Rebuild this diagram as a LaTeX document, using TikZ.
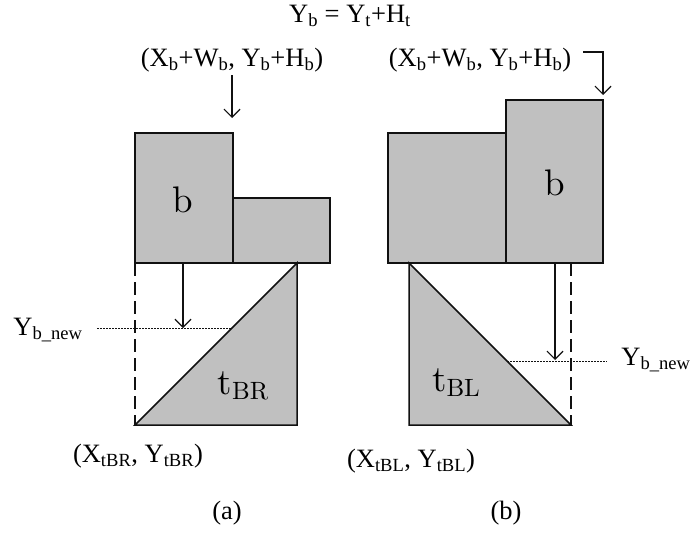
\documentclass[tikz,border=0pt]{standalone}
\usepackage{fontspec}
\setmainfont{Liberation Serif}
\newfontfamily\lmfont{lmroman10-regular.otf}
\usetikzlibrary{arrows.meta}
\definecolor{blocofill}{HTML}{C0C0C0}
\definecolor{blocoline}{HTML}{111111}
\newcommand{\ix}[1]{\textsubscript{#1}}
\tikzset{
  bloco/.style={draw=blocoline,line width=1.5pt,fill=blocofill},
  guia/.style={draw=blocoline,line width=1.5pt,dash pattern=on 13pt off 6pt},
  nivel/.style={draw=blocoline,line width=1pt,dash pattern=on 1.5pt off 1.5pt},
  seta/.style={draw=blocoline,line width=1.2pt,-{Straight Barb[length=8pt,width=16pt,line width=1.2pt]}},
  rot/.style={font=\fontsize{26.5}{26.5}\selectfont,inner sep=0pt},
  nome/.style={font=\lmfont\fontsize{37}{37}\selectfont,inner sep=0pt},
}
\newcommand{\nomesub}[2]{#1\raisebox{-5pt}{\fontsize{25}{25}\selectfont #2}}

\begin{document}
\begin{tikzpicture}[x=1pt,y=-1pt]
  \useasboundingbox (0,0) rectangle (692,536);
  % (a) bloco b sobre t_BR
  \draw[bloco] (135,133) rectangle (233,263);
  \draw[bloco] (233,198) rectangle (330,263);
  \draw[bloco] (135,425) -- (297,263) -- (297,425) -- cycle;
  \draw[guia] (135,263) -- (135,425);
  \node[nome] (ba) at (183,200) {b};
  \node[nome] (tbr) at (243,386) {\nomesub{t}{BR}};
  \coordinate (ynovoa) at (183,328);
  \coordinate (cantoa) at (232,118);
  \draw[nivel] (97,328) -- (232,328);
  \draw[seta] (183,263) -- (ynovoa);
  \node[rot] (topoa) at (232,60) {(X\ix{b}+W\ix{b}, Y\ix{b}+H\ix{b})};
  \draw[seta] (232,75) -- (cantoa);
  \node[rot] (ya) at (48,330) {Y\ix{b\_new}};
  \node[rot] (pta) at (138,456) {(X\ix{tBR}, Y\ix{tBR})};
  \node[rot] (capa) at (227,513) {(a)};
  % (b) bloco b sobre t_BL
  \draw[bloco] (388,133) rectangle (506,263);
  \draw[bloco] (506,100) rectangle (603,263);
  \draw[bloco] (409,263) -- (409,425) -- (571,425) -- cycle;
  \draw[guia] (571,263) -- (571,425);
  \node[nome] (bb) at (555,183) {b};
  \node[nome] (tbl) at (456,383) {\nomesub{t}{BL}};
  \coordinate (ynovob) at (555,360);
  \coordinate (cantob) at (603,95);
  \draw[nivel] (507,361) -- (607,361);
  \draw[seta] (555,263) -- (ynovob);
  \node[rot] (topob) at (480,60) {(X\ix{b}+W\ix{b}, Y\ix{b}+H\ix{b})};
  \draw[seta] (583,52) -| (cantob);
  \node[rot] (yb) at (656,360) {Y\ix{b\_new}};
  \node[rot] (ptb) at (411,461) {(X\ix{tBL}, Y\ix{tBL})};
  \node[rot] (capb) at (506,513) {(b)};
  \node[rot] (formula) at (350,16) {Y\ix{b} = Y\ix{t}+H\ix{t}};
\end{tikzpicture}
\end{document}
